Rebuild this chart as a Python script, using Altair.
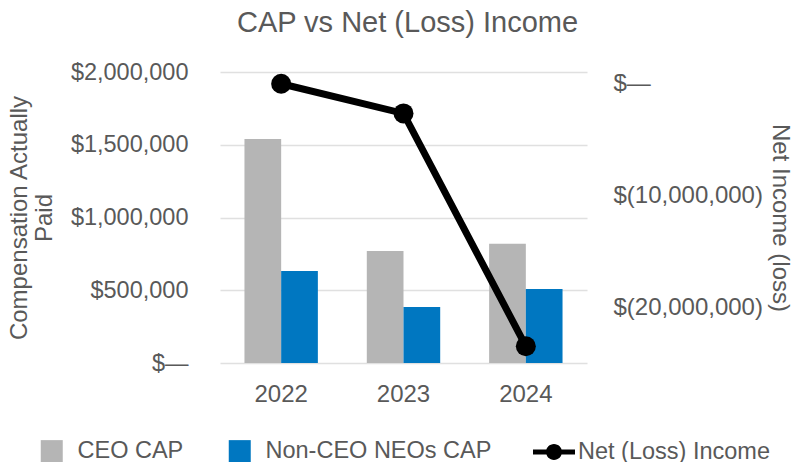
import altair as alt
import pandas as pd

years = ["2022", "2023", "2024"]
series_names = ["CEO CAP", "Non-CEO NEOs CAP"]
ceo_cap = [1540000, 770000, 820000]
non_ceo_cap = [632000, 385000, 509000]
net_income = [-50000, -2700000, -23500000]
net_label = "Net (Loss) Income"

bar_colors = ["#B5B5B5", "#0077C1"]
TEXT = "#595959"
FONT = "Liberation Sans"

bars_df = pd.DataFrame({
    "year": years * 2,
    "series": [series_names[0]] * 3 + [series_names[1]] * 3,
    "value": ceo_cap + non_ceo_cap,
})
net_df = pd.DataFrame({"year": years, "net": net_income, "series": [net_label] * 3})

x_enc = alt.X("year:N", title=None, sort=years,
              scale=alt.Scale(paddingInner=0.4, paddingOuter=0.2),
              axis=alt.Axis(labelAngle=0, domain=False, ticks=False, labelPadding=19,
                            labelFontSize=24, labelColor=TEXT, labelFont=FONT, grid=False))

bars = alt.Chart(bars_df).mark_bar(opacity=1).encode(
    x=x_enc,
    xOffset=alt.XOffset("series:N", sort=series_names),
    y=alt.Y("value:Q", scale=alt.Scale(domain=[0, 2000000], nice=False),
            axis=alt.Axis(values=[0, 500000, 1000000, 1500000, 2000000],
                          labelExpr="datum.value == 0 ? '$—' : '$' + format(datum.value, ',')",
                          title=["Compensation Actually", "Paid"],
                          titleFontSize=24, titleColor=TEXT, titleFont=FONT, titleFontWeight="normal",
                          titleLineHeight=25, titleX=-201, titleY=145.5, titleBaseline="middle",
                          titleAngle=270, titleAlign="center",
                          labelFontSize=23.5, labelColor=TEXT, labelFont=FONT, labelPadding=32,
                          domain=False, ticks=False, grid=True, gridColor="#E0E0E0", gridWidth=1.5)),
    color=alt.Color("series:N", scale=alt.Scale(domain=series_names, range=bar_colors),
                    legend=alt.Legend(title=None, orient="none", legendX=-180, legendY=367,
                                      direction="horizontal", symbolType="square", symbolSize=484,
                                      symbolStrokeWidth=0, labelFontSize=23.5, labelColor=TEXT,
                                      labelFont=FONT, labelOffset=14, columnPadding=44, padding=0,
                                      symbolOpacity=1, labelLimit=400)),
)

y_net_scale = alt.Scale(domain=[-25000000, 1000000], nice=False)

line = alt.Chart(net_df).mark_line(color="black", strokeWidth=7).encode(
    x=alt.X("year:N", sort=years),
    y=alt.Y("net:Q", scale=y_net_scale,
            axis=alt.Axis(orient="right", values=[0, -10000000, -20000000],
                          labelExpr="datum.value == 0 ? '$—' : '$(' + format(-datum.value, ',') + ')'",
                          title="Net Income (loss)", titleFontSize=24, titleColor=TEXT, titleFont=FONT,
                          titleFontWeight="normal", titleX=192, titleY=145.5, titleBaseline="middle",
                          titleAngle=90, titleAlign="center",
                          labelFontSize=24, labelColor=TEXT, labelFont=FONT, labelPadding=26,
                          domain=False, ticks=False, grid=False)),
)

legend_path = ("M-1,-0.12H1V0.12H-1Z "
               "M0,-0.38A0.38,0.38,0,1,1,0,0.38A0.38,0.38,0,1,1,0,-0.38Z")

points = alt.Chart(net_df).mark_point(filled=True, shape="circle", size=400, opacity=1,
                                      strokeWidth=0).encode(
    x=alt.X("year:N", sort=years),
    y=alt.Y("net:Q", scale=y_net_scale, axis=None),
    fill=alt.Fill("series:N", scale=alt.Scale(domain=[net_label], range=["black"]),
                  legend=alt.Legend(title=None, orient="none", legendX=313, legendY=359,
                                    symbolType=legend_path, symbolSize=1764, symbolStrokeWidth=0,
                                    symbolOpacity=1, labelFontSize=23.5, labelColor=TEXT,
                                    labelFont=FONT, labelOffset=3, padding=0, labelLimit=400)),
)

chart = alt.layer(bars, line, points).resolve_scale(
    y="independent", color="independent", fill="independent"
).properties(
    width=367, height=291,
    autosize=alt.AutoSizeParams(type="none"),
    padding={"left": 212, "top": 64, "right": 206, "bottom": 99},
    title=alt.TitleParams("CAP vs Net (Loss) Income", fontSize=29, color=TEXT, font=FONT,
                          fontWeight="normal", offset=22, anchor="middle", dx=4),
).configure(background="white").configure_view(stroke=None)

chart.save("out.html", embed_options={"renderer": "svg", "actions": False})
